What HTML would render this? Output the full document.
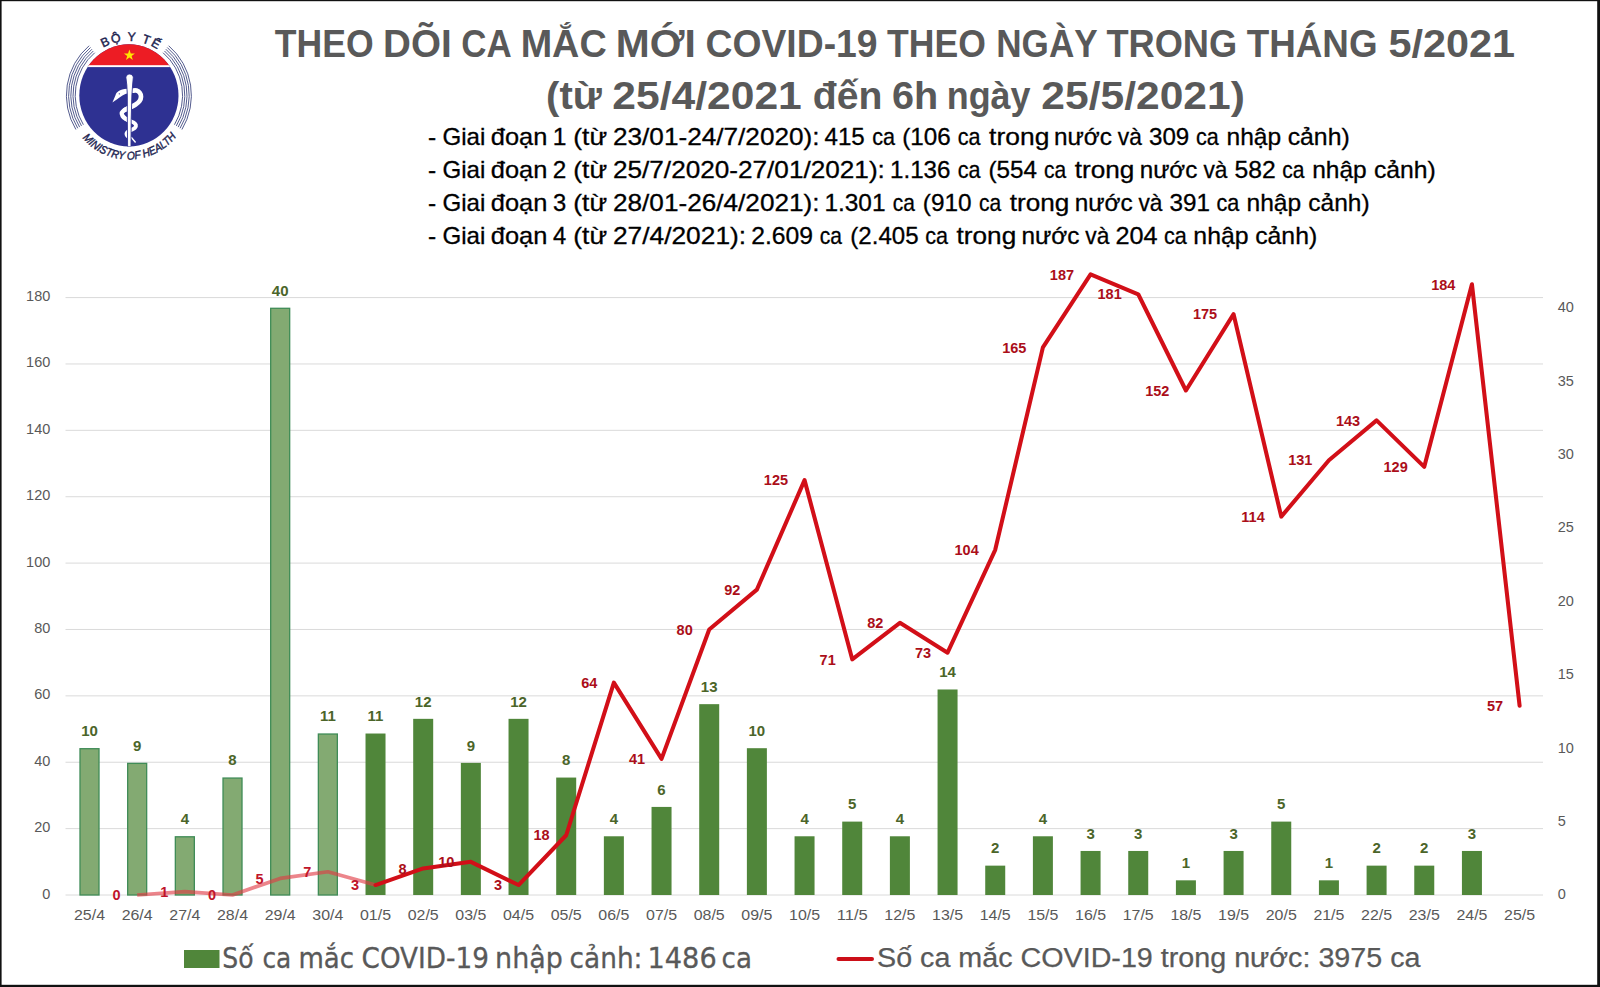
<!DOCTYPE html>
<html lang="vi"><head><meta charset="utf-8"><title>Theo dõi ca mắc mới COVID-19</title>
<style>html,body{margin:0;padding:0;background:#fff}body{width:1600px;height:987px;overflow:hidden}svg{display:block}text{font-family:"Liberation Sans",sans-serif}.ax{font-size:14.5px;fill:#595959}.gl{font-size:15px;font-weight:bold;fill:#4b6529;text-anchor:middle}.rl{font-size:14.5px;font-weight:bold;fill:#ab0e19;text-anchor:end}.sub{font-size:23.2px;fill:#000;stroke:#000;stroke-width:0.3px}.lg1{font-family:"DejaVu Sans",sans-serif;font-size:27.6px;fill:#595959;stroke:#595959;stroke-width:0.3px}.ttl{font-size:38.8px;font-weight:bold;fill:#595959}</style></head><body>
<svg width="1600" height="987" viewBox="0 0 1600 987">
<rect x="0" y="0" width="1600" height="987" fill="#fff"/>
<g stroke="#dadada" stroke-width="1">
<line x1="65.5" x2="1543" y1="895.00" y2="895.00"/>
<line x1="65.5" x2="1543" y1="828.62" y2="828.62"/>
<line x1="65.5" x2="1543" y1="762.24" y2="762.24"/>
<line x1="65.5" x2="1543" y1="695.86" y2="695.86"/>
<line x1="65.5" x2="1543" y1="629.48" y2="629.48"/>
<line x1="65.5" x2="1543" y1="563.10" y2="563.10"/>
<line x1="65.5" x2="1543" y1="496.72" y2="496.72"/>
<line x1="65.5" x2="1543" y1="430.34" y2="430.34"/>
<line x1="65.5" x2="1543" y1="363.96" y2="363.96"/>
<line x1="65.5" x2="1543" y1="297.58" y2="297.58"/>
</g>
<g class="ax" text-anchor="end">
<text x="50.3" y="898.50">0</text>
<text x="50.3" y="832.12">20</text>
<text x="50.3" y="765.74">40</text>
<text x="50.3" y="699.36">60</text>
<text x="50.3" y="632.98">80</text>
<text x="50.3" y="566.60">100</text>
<text x="50.3" y="500.22">120</text>
<text x="50.3" y="433.84">140</text>
<text x="50.3" y="367.46">160</text>
<text x="50.3" y="301.08">180</text>
</g>
<g class="ax" text-anchor="start">
<text x="1557.8" y="899.40">0</text>
<text x="1557.8" y="826.00">5</text>
<text x="1557.8" y="752.60">10</text>
<text x="1557.8" y="679.20">15</text>
<text x="1557.8" y="605.80">20</text>
<text x="1557.8" y="532.40">25</text>
<text x="1557.8" y="459.00">30</text>
<text x="1557.8" y="385.60">35</text>
<text x="1557.8" y="312.20">40</text>
</g>
<g class="ax" text-anchor="middle">
<text x="89.50" y="920.3" style="font-size:15.2px" textLength="31" lengthAdjust="spacingAndGlyphs">25/4</text>
<text x="137.17" y="920.3" style="font-size:15.2px" textLength="31" lengthAdjust="spacingAndGlyphs">26/4</text>
<text x="184.84" y="920.3" style="font-size:15.2px" textLength="31" lengthAdjust="spacingAndGlyphs">27/4</text>
<text x="232.51" y="920.3" style="font-size:15.2px" textLength="31" lengthAdjust="spacingAndGlyphs">28/4</text>
<text x="280.18" y="920.3" style="font-size:15.2px" textLength="31" lengthAdjust="spacingAndGlyphs">29/4</text>
<text x="327.85" y="920.3" style="font-size:15.2px" textLength="31" lengthAdjust="spacingAndGlyphs">30/4</text>
<text x="375.52" y="920.3" style="font-size:15.2px" textLength="31" lengthAdjust="spacingAndGlyphs">01/5</text>
<text x="423.19" y="920.3" style="font-size:15.2px" textLength="31" lengthAdjust="spacingAndGlyphs">02/5</text>
<text x="470.86" y="920.3" style="font-size:15.2px" textLength="31" lengthAdjust="spacingAndGlyphs">03/5</text>
<text x="518.53" y="920.3" style="font-size:15.2px" textLength="31" lengthAdjust="spacingAndGlyphs">04/5</text>
<text x="566.20" y="920.3" style="font-size:15.2px" textLength="31" lengthAdjust="spacingAndGlyphs">05/5</text>
<text x="613.87" y="920.3" style="font-size:15.2px" textLength="31" lengthAdjust="spacingAndGlyphs">06/5</text>
<text x="661.54" y="920.3" style="font-size:15.2px" textLength="31" lengthAdjust="spacingAndGlyphs">07/5</text>
<text x="709.21" y="920.3" style="font-size:15.2px" textLength="31" lengthAdjust="spacingAndGlyphs">08/5</text>
<text x="756.88" y="920.3" style="font-size:15.2px" textLength="31" lengthAdjust="spacingAndGlyphs">09/5</text>
<text x="804.55" y="920.3" style="font-size:15.2px" textLength="31" lengthAdjust="spacingAndGlyphs">10/5</text>
<text x="852.22" y="920.3" style="font-size:15.2px" textLength="31" lengthAdjust="spacingAndGlyphs">11/5</text>
<text x="899.89" y="920.3" style="font-size:15.2px" textLength="31" lengthAdjust="spacingAndGlyphs">12/5</text>
<text x="947.56" y="920.3" style="font-size:15.2px" textLength="31" lengthAdjust="spacingAndGlyphs">13/5</text>
<text x="995.23" y="920.3" style="font-size:15.2px" textLength="31" lengthAdjust="spacingAndGlyphs">14/5</text>
<text x="1042.90" y="920.3" style="font-size:15.2px" textLength="31" lengthAdjust="spacingAndGlyphs">15/5</text>
<text x="1090.57" y="920.3" style="font-size:15.2px" textLength="31" lengthAdjust="spacingAndGlyphs">16/5</text>
<text x="1138.24" y="920.3" style="font-size:15.2px" textLength="31" lengthAdjust="spacingAndGlyphs">17/5</text>
<text x="1185.91" y="920.3" style="font-size:15.2px" textLength="31" lengthAdjust="spacingAndGlyphs">18/5</text>
<text x="1233.58" y="920.3" style="font-size:15.2px" textLength="31" lengthAdjust="spacingAndGlyphs">19/5</text>
<text x="1281.25" y="920.3" style="font-size:15.2px" textLength="31" lengthAdjust="spacingAndGlyphs">20/5</text>
<text x="1328.92" y="920.3" style="font-size:15.2px" textLength="31" lengthAdjust="spacingAndGlyphs">21/5</text>
<text x="1376.59" y="920.3" style="font-size:15.2px" textLength="31" lengthAdjust="spacingAndGlyphs">22/5</text>
<text x="1424.26" y="920.3" style="font-size:15.2px" textLength="31" lengthAdjust="spacingAndGlyphs">23/5</text>
<text x="1471.93" y="920.3" style="font-size:15.2px" textLength="31" lengthAdjust="spacingAndGlyphs">24/5</text>
<text x="1519.60" y="920.3" style="font-size:15.2px" textLength="31" lengthAdjust="spacingAndGlyphs">25/5</text>
</g>
<g>
<rect x="80.00" y="748.70" width="19.00" height="146.30" fill="#83aa72" stroke="#3f8c57" stroke-width="1.3"/>
<rect x="127.67" y="763.38" width="19.00" height="131.62" fill="#83aa72" stroke="#3f8c57" stroke-width="1.3"/>
<rect x="175.34" y="836.78" width="19.00" height="58.22" fill="#83aa72" stroke="#3f8c57" stroke-width="1.3"/>
<rect x="223.01" y="778.06" width="19.00" height="116.94" fill="#83aa72" stroke="#3f8c57" stroke-width="1.3"/>
<rect x="270.68" y="308.30" width="19.00" height="586.70" fill="#83aa72" stroke="#3f8c57" stroke-width="1.3"/>
<rect x="318.35" y="734.02" width="19.00" height="160.98" fill="#83aa72" stroke="#3f8c57" stroke-width="1.3"/>
<rect x="365.52" y="733.52" width="20.00" height="161.48" fill="#50863a"/>
<rect x="413.19" y="718.84" width="20.00" height="176.16" fill="#50863a"/>
<rect x="460.86" y="762.88" width="20.00" height="132.12" fill="#50863a"/>
<rect x="508.53" y="718.84" width="20.00" height="176.16" fill="#50863a"/>
<rect x="556.20" y="777.56" width="20.00" height="117.44" fill="#50863a"/>
<rect x="603.87" y="836.28" width="20.00" height="58.72" fill="#50863a"/>
<rect x="651.54" y="806.92" width="20.00" height="88.08" fill="#50863a"/>
<rect x="699.21" y="704.16" width="20.00" height="190.84" fill="#50863a"/>
<rect x="746.88" y="748.20" width="20.00" height="146.80" fill="#50863a"/>
<rect x="794.55" y="836.28" width="20.00" height="58.72" fill="#50863a"/>
<rect x="842.22" y="821.60" width="20.00" height="73.40" fill="#50863a"/>
<rect x="889.89" y="836.28" width="20.00" height="58.72" fill="#50863a"/>
<rect x="937.56" y="689.48" width="20.00" height="205.52" fill="#50863a"/>
<rect x="985.23" y="865.64" width="20.00" height="29.36" fill="#50863a"/>
<rect x="1032.90" y="836.28" width="20.00" height="58.72" fill="#50863a"/>
<rect x="1080.57" y="850.96" width="20.00" height="44.04" fill="#50863a"/>
<rect x="1128.24" y="850.96" width="20.00" height="44.04" fill="#50863a"/>
<rect x="1175.91" y="880.32" width="20.00" height="14.68" fill="#50863a"/>
<rect x="1223.58" y="850.96" width="20.00" height="44.04" fill="#50863a"/>
<rect x="1271.25" y="821.60" width="20.00" height="73.40" fill="#50863a"/>
<rect x="1318.92" y="880.32" width="20.00" height="14.68" fill="#50863a"/>
<rect x="1366.59" y="865.64" width="20.00" height="29.36" fill="#50863a"/>
<rect x="1414.26" y="865.64" width="20.00" height="29.36" fill="#50863a"/>
<rect x="1461.93" y="850.96" width="20.00" height="44.04" fill="#50863a"/>
</g>
<polyline fill="none" stroke="#e03a44" stroke-opacity="0.62" stroke-width="3.7" stroke-linejoin="round" points="137.17,895.00 184.84,891.68 232.51,895.00 280.18,878.40 327.85,871.77 375.52,885.04"/>
<polyline fill="none" stroke="#d20f18" stroke-width="4.05" stroke-linejoin="round" stroke-linecap="round" points="375.52,885.04 423.19,868.45 470.86,861.81 518.53,885.04 566.20,835.26 613.87,682.58 661.54,758.92 709.21,629.48 756.88,589.65 804.55,480.12 852.22,659.35 899.89,622.84 947.56,652.71 995.23,549.82 1042.90,347.37 1090.57,274.35 1138.24,294.26 1185.91,390.51 1233.58,314.17 1281.25,516.63 1328.92,460.21 1376.59,420.38 1424.26,466.85 1471.93,284.30 1519.60,705.82"/>
<g class="gl">
<text x="89.50" y="736.00">10</text>
<text x="137.17" y="750.68">9</text>
<text x="184.84" y="824.08">4</text>
<text x="232.51" y="765.36">8</text>
<text x="280.18" y="295.60">40</text>
<text x="327.85" y="721.32">11</text>
<text x="375.52" y="721.32">11</text>
<text x="423.19" y="706.64">12</text>
<text x="470.86" y="750.68">9</text>
<text x="518.53" y="706.64">12</text>
<text x="566.20" y="765.36">8</text>
<text x="613.87" y="824.08">4</text>
<text x="661.54" y="794.72">6</text>
<text x="709.21" y="691.96">13</text>
<text x="756.88" y="736.00">10</text>
<text x="804.55" y="824.08">4</text>
<text x="852.22" y="809.40">5</text>
<text x="899.89" y="824.08">4</text>
<text x="947.56" y="677.28">14</text>
<text x="995.23" y="853.44">2</text>
<text x="1042.90" y="824.08">4</text>
<text x="1090.57" y="838.76">3</text>
<text x="1138.24" y="838.76">3</text>
<text x="1185.91" y="868.12">1</text>
<text x="1233.58" y="838.76">3</text>
<text x="1281.25" y="809.40">5</text>
<text x="1328.92" y="868.12">1</text>
<text x="1376.59" y="853.44">2</text>
<text x="1424.26" y="853.44">2</text>
<text x="1471.93" y="838.76">3</text>
</g>
<g class="rl">
<text x="120.67" y="900.20" style="fill:#c0142a">0</text>
<text x="168.34" y="896.88" style="fill:#c0142a">1</text>
<text x="216.01" y="900.20" style="fill:#c0142a">0</text>
<text x="263.68" y="883.61" style="fill:#c0142a">5</text>
<text x="311.35" y="876.97" style="fill:#c0142a">7</text>
<text x="359.02" y="890.24" style="fill:#c0142a">3</text>
<text x="406.69" y="873.65">8</text>
<text x="454.36" y="867.01">10</text>
<text x="502.03" y="890.24">3</text>
<text x="549.70" y="840.46">18</text>
<text x="597.37" y="687.78">64</text>
<text x="645.04" y="764.12">41</text>
<text x="692.71" y="634.68">80</text>
<text x="740.38" y="594.85">92</text>
<text x="788.05" y="485.32">125</text>
<text x="835.72" y="664.55">71</text>
<text x="883.39" y="628.04">82</text>
<text x="931.06" y="657.91">73</text>
<text x="978.73" y="555.02">104</text>
<text x="1026.40" y="352.56">165</text>
<text x="1074.07" y="279.55">187</text>
<text x="1121.74" y="299.46">181</text>
<text x="1169.41" y="395.71">152</text>
<text x="1217.08" y="319.37">175</text>
<text x="1264.75" y="521.83">114</text>
<text x="1312.42" y="465.41">131</text>
<text x="1360.09" y="425.58">143</text>
<text x="1407.76" y="472.05">129</text>
<text x="1455.43" y="289.50">184</text>
<text x="1503.10" y="711.02">57</text>
</g>
<text class="ttl" y="57.00"><tspan x="274.79" textLength="98.86" lengthAdjust="spacingAndGlyphs">THEO</tspan> <tspan x="383.11" textLength="68.61" lengthAdjust="spacingAndGlyphs">DÕI</tspan> <tspan x="461.19" textLength="49.13" lengthAdjust="spacingAndGlyphs">CA</tspan> <tspan x="520.67" textLength="86.01" lengthAdjust="spacingAndGlyphs">MẮC</tspan> <tspan x="615.87" textLength="80.07" lengthAdjust="spacingAndGlyphs">MỚI</tspan> <tspan x="705.46" textLength="172.19" lengthAdjust="spacingAndGlyphs">COVID-19</tspan> <tspan x="887.04" textLength="98.76" lengthAdjust="spacingAndGlyphs">THEO</tspan> <tspan x="996.25" textLength="100.76" lengthAdjust="spacingAndGlyphs">NGÀY</tspan> <tspan x="1106.43" textLength="130.75" lengthAdjust="spacingAndGlyphs">TRONG</tspan> <tspan x="1246.78" textLength="130.79" lengthAdjust="spacingAndGlyphs">THÁNG</tspan> <tspan x="1388.42" textLength="126.58" lengthAdjust="spacingAndGlyphs">5/2021</tspan></text>
<text class="ttl" y="109.20"><tspan x="546.03" textLength="55.80" lengthAdjust="spacingAndGlyphs">(từ</tspan> <tspan x="612.38" textLength="189.44" lengthAdjust="spacingAndGlyphs">25/4/2021</tspan> <tspan x="812.89" textLength="69.62" lengthAdjust="spacingAndGlyphs">đến</tspan> <tspan x="891.97" textLength="46.21" lengthAdjust="spacingAndGlyphs">6h</tspan> <tspan x="946.69" textLength="83.85" lengthAdjust="spacingAndGlyphs">ngày</tspan> <tspan x="1041.38" textLength="203.45" lengthAdjust="spacingAndGlyphs">25/5/2021)</tspan></text>
<text class="sub" y="144.80"><tspan x="428.14" textLength="8.20" lengthAdjust="spacingAndGlyphs">-</tspan> <tspan x="442.45" textLength="42.86" lengthAdjust="spacingAndGlyphs">Giai</tspan> <tspan x="490.80" textLength="56.54" lengthAdjust="spacingAndGlyphs">đoạn</tspan> <tspan x="552.85" textLength="13.68" lengthAdjust="spacingAndGlyphs">1</tspan> <tspan x="573.30" textLength="33.74" lengthAdjust="spacingAndGlyphs">(từ</tspan> <tspan x="612.99" textLength="206.55" lengthAdjust="spacingAndGlyphs">23/01-24/7/2020):</tspan> <tspan x="824.48" textLength="40.25" lengthAdjust="spacingAndGlyphs">415</tspan> <tspan x="872.17" textLength="22.83" lengthAdjust="spacingAndGlyphs">ca</tspan> <tspan x="902.18" textLength="48.44" lengthAdjust="spacingAndGlyphs">(106</tspan> <tspan x="957.82" textLength="22.78" lengthAdjust="spacingAndGlyphs">ca</tspan> <tspan x="989.12" textLength="60.22" lengthAdjust="spacingAndGlyphs">trong</tspan> <tspan x="1054.02" textLength="57.98" lengthAdjust="spacingAndGlyphs">nước</tspan> <tspan x="1117.85" textLength="24.05" lengthAdjust="spacingAndGlyphs">và</tspan> <tspan x="1148.96" textLength="40.28" lengthAdjust="spacingAndGlyphs">309</tspan> <tspan x="1195.97" textLength="22.78" lengthAdjust="spacingAndGlyphs">ca</tspan> <tspan x="1226.51" textLength="54.65" lengthAdjust="spacingAndGlyphs">nhập</tspan> <tspan x="1287.68" textLength="62.04" lengthAdjust="spacingAndGlyphs">cảnh)</tspan></text>
<text class="sub" y="177.50"><tspan x="428.14" textLength="8.20" lengthAdjust="spacingAndGlyphs">-</tspan> <tspan x="442.45" textLength="42.86" lengthAdjust="spacingAndGlyphs">Giai</tspan> <tspan x="490.80" textLength="56.54" lengthAdjust="spacingAndGlyphs">đoạn</tspan> <tspan x="552.69" textLength="13.52" lengthAdjust="spacingAndGlyphs">2</tspan> <tspan x="573.30" textLength="33.74" lengthAdjust="spacingAndGlyphs">(từ</tspan> <tspan x="612.99" textLength="271.87" lengthAdjust="spacingAndGlyphs">25/7/2020-27/01/2021):</tspan> <tspan x="890.08" textLength="60.39" lengthAdjust="spacingAndGlyphs">1.136</tspan> <tspan x="957.82" textLength="22.78" lengthAdjust="spacingAndGlyphs">ca</tspan> <tspan x="988.43" textLength="48.52" lengthAdjust="spacingAndGlyphs">(554</tspan> <tspan x="1044.10" textLength="22.15" lengthAdjust="spacingAndGlyphs">ca</tspan> <tspan x="1074.72" textLength="59.60" lengthAdjust="spacingAndGlyphs">trong</tspan> <tspan x="1139.68" textLength="57.67" lengthAdjust="spacingAndGlyphs">nước</tspan> <tspan x="1203.51" textLength="23.99" lengthAdjust="spacingAndGlyphs">và</tspan> <tspan x="1234.54" textLength="41.13" lengthAdjust="spacingAndGlyphs">582</tspan> <tspan x="1282.19" textLength="22.21" lengthAdjust="spacingAndGlyphs">ca</tspan> <tspan x="1312.16" textLength="54.59" lengthAdjust="spacingAndGlyphs">nhập</tspan> <tspan x="1373.93" textLength="61.88" lengthAdjust="spacingAndGlyphs">cảnh)</tspan></text>
<text class="sub" y="211.00"><tspan x="428.14" textLength="8.20" lengthAdjust="spacingAndGlyphs">-</tspan> <tspan x="442.45" textLength="42.86" lengthAdjust="spacingAndGlyphs">Giai</tspan> <tspan x="490.80" textLength="56.54" lengthAdjust="spacingAndGlyphs">đoạn</tspan> <tspan x="552.98" textLength="13.21" lengthAdjust="spacingAndGlyphs">3</tspan> <tspan x="573.30" textLength="33.74" lengthAdjust="spacingAndGlyphs">(từ</tspan> <tspan x="612.99" textLength="206.55" lengthAdjust="spacingAndGlyphs">28/01-26/4/2021):</tspan> <tspan x="824.41" textLength="61.08" lengthAdjust="spacingAndGlyphs">1.301</tspan> <tspan x="892.85" textLength="22.15" lengthAdjust="spacingAndGlyphs">ca</tspan> <tspan x="922.82" textLength="48.74" lengthAdjust="spacingAndGlyphs">(910</tspan> <tspan x="979.10" textLength="22.15" lengthAdjust="spacingAndGlyphs">ca</tspan> <tspan x="1009.72" textLength="59.60" lengthAdjust="spacingAndGlyphs">trong</tspan> <tspan x="1074.67" textLength="57.98" lengthAdjust="spacingAndGlyphs">nước</tspan> <tspan x="1138.51" textLength="23.99" lengthAdjust="spacingAndGlyphs">và</tspan> <tspan x="1169.55" textLength="40.44" lengthAdjust="spacingAndGlyphs">391</tspan> <tspan x="1216.57" textLength="22.83" lengthAdjust="spacingAndGlyphs">ca</tspan> <tspan x="1246.51" textLength="54.65" lengthAdjust="spacingAndGlyphs">nhập</tspan> <tspan x="1308.34" textLength="61.36" lengthAdjust="spacingAndGlyphs">cảnh)</tspan></text>
<text class="sub" y="243.80"><tspan x="428.14" textLength="8.20" lengthAdjust="spacingAndGlyphs">-</tspan> <tspan x="442.45" textLength="42.86" lengthAdjust="spacingAndGlyphs">Giai</tspan> <tspan x="490.80" textLength="56.54" lengthAdjust="spacingAndGlyphs">đoạn</tspan> <tspan x="552.99" textLength="13.18" lengthAdjust="spacingAndGlyphs">4</tspan> <tspan x="573.30" textLength="33.74" lengthAdjust="spacingAndGlyphs">(từ</tspan> <tspan x="612.98" textLength="133.13" lengthAdjust="spacingAndGlyphs">27/4/2021):</tspan> <tspan x="751.17" textLength="61.83" lengthAdjust="spacingAndGlyphs">2.609</tspan> <tspan x="819.69" textLength="22.21" lengthAdjust="spacingAndGlyphs">ca</tspan> <tspan x="850.34" textLength="68.19" lengthAdjust="spacingAndGlyphs">(2.405</tspan> <tspan x="925.32" textLength="22.78" lengthAdjust="spacingAndGlyphs">ca</tspan> <tspan x="956.62" textLength="59.60" lengthAdjust="spacingAndGlyphs">trong</tspan> <tspan x="1021.52" textLength="57.98" lengthAdjust="spacingAndGlyphs">nước</tspan> <tspan x="1085.35" textLength="24.05" lengthAdjust="spacingAndGlyphs">và</tspan> <tspan x="1115.54" textLength="42.11" lengthAdjust="spacingAndGlyphs">204</tspan> <tspan x="1164.07" textLength="22.83" lengthAdjust="spacingAndGlyphs">ca</tspan> <tspan x="1193.39" textLength="55.28" lengthAdjust="spacingAndGlyphs">nhập</tspan> <tspan x="1255.18" textLength="62.04" lengthAdjust="spacingAndGlyphs">cảnh)</tspan></text>
<rect x="184" y="950" width="35.5" height="18" fill="#50863a"/>
<text class="lg1" y="968.00"><tspan x="222.31" textLength="31.29" lengthAdjust="spacingAndGlyphs">Số</tspan> <tspan x="262.40" textLength="28.94" lengthAdjust="spacingAndGlyphs">ca</tspan> <tspan x="298.44" textLength="55.68" lengthAdjust="spacingAndGlyphs">mắc</tspan> <tspan x="361.57" textLength="127.42" lengthAdjust="spacingAndGlyphs">COVID-19</tspan> <tspan x="495.06" textLength="67.81" lengthAdjust="spacingAndGlyphs">nhập</tspan> <tspan x="569.57" textLength="72.90" lengthAdjust="spacingAndGlyphs">cảnh:</tspan> <tspan x="647.55" textLength="69.16" lengthAdjust="spacingAndGlyphs">1486</tspan> <tspan x="721.58" textLength="30.37" lengthAdjust="spacingAndGlyphs">ca</tspan></text>
<line x1="838.5" x2="872" y1="958.9" y2="958.9" stroke="#cc0f18" stroke-width="4" stroke-linecap="round"/>
<text x="877" y="966.8" style="font-size:27px" fill="#595959" stroke="#595959" stroke-width="0.25" textLength="543.5" lengthAdjust="spacingAndGlyphs">Số ca mắc COVID-19 trong nước: 3975 ca</text>
<g id="logo">
<defs><clipPath id="lc"><ellipse cx="128.90" cy="95.40" rx="49.60" ry="51.10"/></clipPath>
<path id="tp1" d="M76.00,95.40 A52.90,54.49 0 0 1 181.80,95.40"/>
<path id="tp2" d="M66.60,95.40 A62.30,64.17 0 0 0 191.20,95.40"/>
</defs>
<ellipse cx="128.90" cy="95.40" rx="49.60" ry="51.10" fill="#2e3192"/>
<rect x="70" y="40" width="120" height="26.2" fill="#ed1c24" clip-path="url(#lc)"/>
<rect x="70" y="65.2" width="120" height="1.9" fill="#fff" clip-path="url(#lc)"/>
<polygon points="129.40,49.50 130.75,53.44 134.92,53.51 131.59,56.01 132.81,59.99 129.40,57.60 125.99,59.99 127.21,56.01 123.88,53.51 128.05,53.44" fill="#ffe600"/>
<g fill="none" stroke="#353f7a" stroke-width="0.85">
<path d="M94.74,52.72 A53.70,55.31 0 0 0 83.36,124.71"/>
<path d="M163.06,52.72 A53.70,55.31 0 0 1 174.44,124.71"/>
<path d="M93.34,50.97 A55.90,57.58 0 0 0 81.49,125.91"/>
<path d="M164.46,50.97 A55.90,57.58 0 0 1 176.31,125.91"/>
<path d="M91.94,49.22 A58.10,59.84 0 0 0 79.63,127.11"/>
<path d="M165.86,49.22 A58.10,59.84 0 0 1 178.17,127.11"/>
<path d="M90.54,47.48 A60.30,62.11 0 0 0 77.76,128.31"/>
<path d="M167.26,47.48 A60.30,62.11 0 0 1 180.04,128.31"/>
<path d="M89.15,45.73 A62.50,64.38 0 0 0 75.90,129.51"/>
<path d="M168.65,45.73 A62.50,64.38 0 0 1 181.90,129.51"/>
</g>
<g fill="none" stroke="#fff" stroke-linecap="round" stroke-linejoin="round">
<path d="M132.60,90.60 C133.25,90.60 135.30,90.23 136.50,90.60 C137.70,90.97 139.05,91.80 139.80,92.80 C140.55,93.80 141.03,95.23 141.00,96.60 C140.97,97.97 140.55,99.63 139.60,101.00 C138.65,102.37 136.97,103.70 135.30,104.80 C133.63,105.90 131.38,106.73 129.60,107.60 C127.82,108.47 125.43,109.60 124.60,110.00" stroke-width="4.7"/>
<path d="M129.60,107.60 C128.77,108.00 125.90,109.13 124.60,110.00 C123.30,110.87 122.13,111.80 121.80,112.80 C121.47,113.80 121.97,115.00 122.60,116.00 C123.23,117.00 124.43,118.00 125.60,118.80 C126.77,119.60 128.93,120.47 129.60,120.80" stroke-width="4.4"/>
<path d="M125.60,118.80 C126.27,119.13 128.23,120.17 129.60,120.80 C130.97,121.43 132.75,121.90 133.80,122.60 C134.85,123.30 135.70,124.13 135.90,125.00 C136.10,125.87 135.65,127.03 135.00,127.80 C134.35,128.57 132.93,129.13 132.00,129.60 C131.07,130.07 129.83,130.43 129.40,130.60" stroke-width="3.9"/>
<path d="M132.00,129.60 C131.57,129.77 130.23,130.23 129.40,130.60 C128.57,130.97 127.57,131.30 127.00,131.80 C126.43,132.30 126.07,132.97 126.00,133.60 C125.93,134.23 126.20,134.97 126.60,135.60 C127.00,136.23 128.10,137.10 128.40,137.40" stroke-width="2.9"/>
<path d="M131.4,137.6 L135.2,142" stroke-width="1.5"/>
</g>
<path d="M112.4,102.4 L115.4,95.4 C116,93.6 116.6,92.4 118.4,91.2 C120.6,89.8 123.6,89 127,88.8 L127,93.4 C124.8,94 123,95 121,96.6 C118.6,98.4 116,100 112.4,102.4 Z" fill="#fff"/>
<circle cx="119.3" cy="93.8" r="0.65" fill="#2e3192"/>
<path d="M125.9,77.6 C125.9,72.9 133.3,72.9 133.3,77.6 L132.6,85 L131.9,95 L131.2,120 L131.0,146.8 L127.6,146.8 L127.35,120 L127.3,95 L126.8,85 Z" fill="#fff" stroke="#2e3192" stroke-width="0.9" clip-path="url(#lc)"/>
<text style="font-family:'Liberation Sans',sans-serif;font-size:12.3px;word-spacing:-0.4px;letter-spacing:1.65px" fill="#20234f" stroke="#20234f" stroke-width="0.45"><textPath href="#tp1" startOffset="86.54" text-anchor="middle">BỘ Y TẾ</textPath></text>
<text style="font-family:'Liberation Sans',sans-serif;font-size:11.3px;font-style:italic" fill="#20234f" stroke="#20234f" stroke-width="0.4"><textPath href="#tp2" startOffset="99.93" text-anchor="middle" textLength="107.5" lengthAdjust="spacingAndGlyphs">MINISTRY OF HEALTH</textPath></text>
</g>
<rect x="0" y="0" width="1600" height="1.2" fill="#111"/>
<rect x="0" y="0" width="1.6" height="987" fill="#111"/>
<rect x="1597.2" y="0" width="2.8" height="987" fill="#111"/>
<rect x="0" y="984.8" width="1600" height="2.2" fill="#111"/>
</svg></body></html>
